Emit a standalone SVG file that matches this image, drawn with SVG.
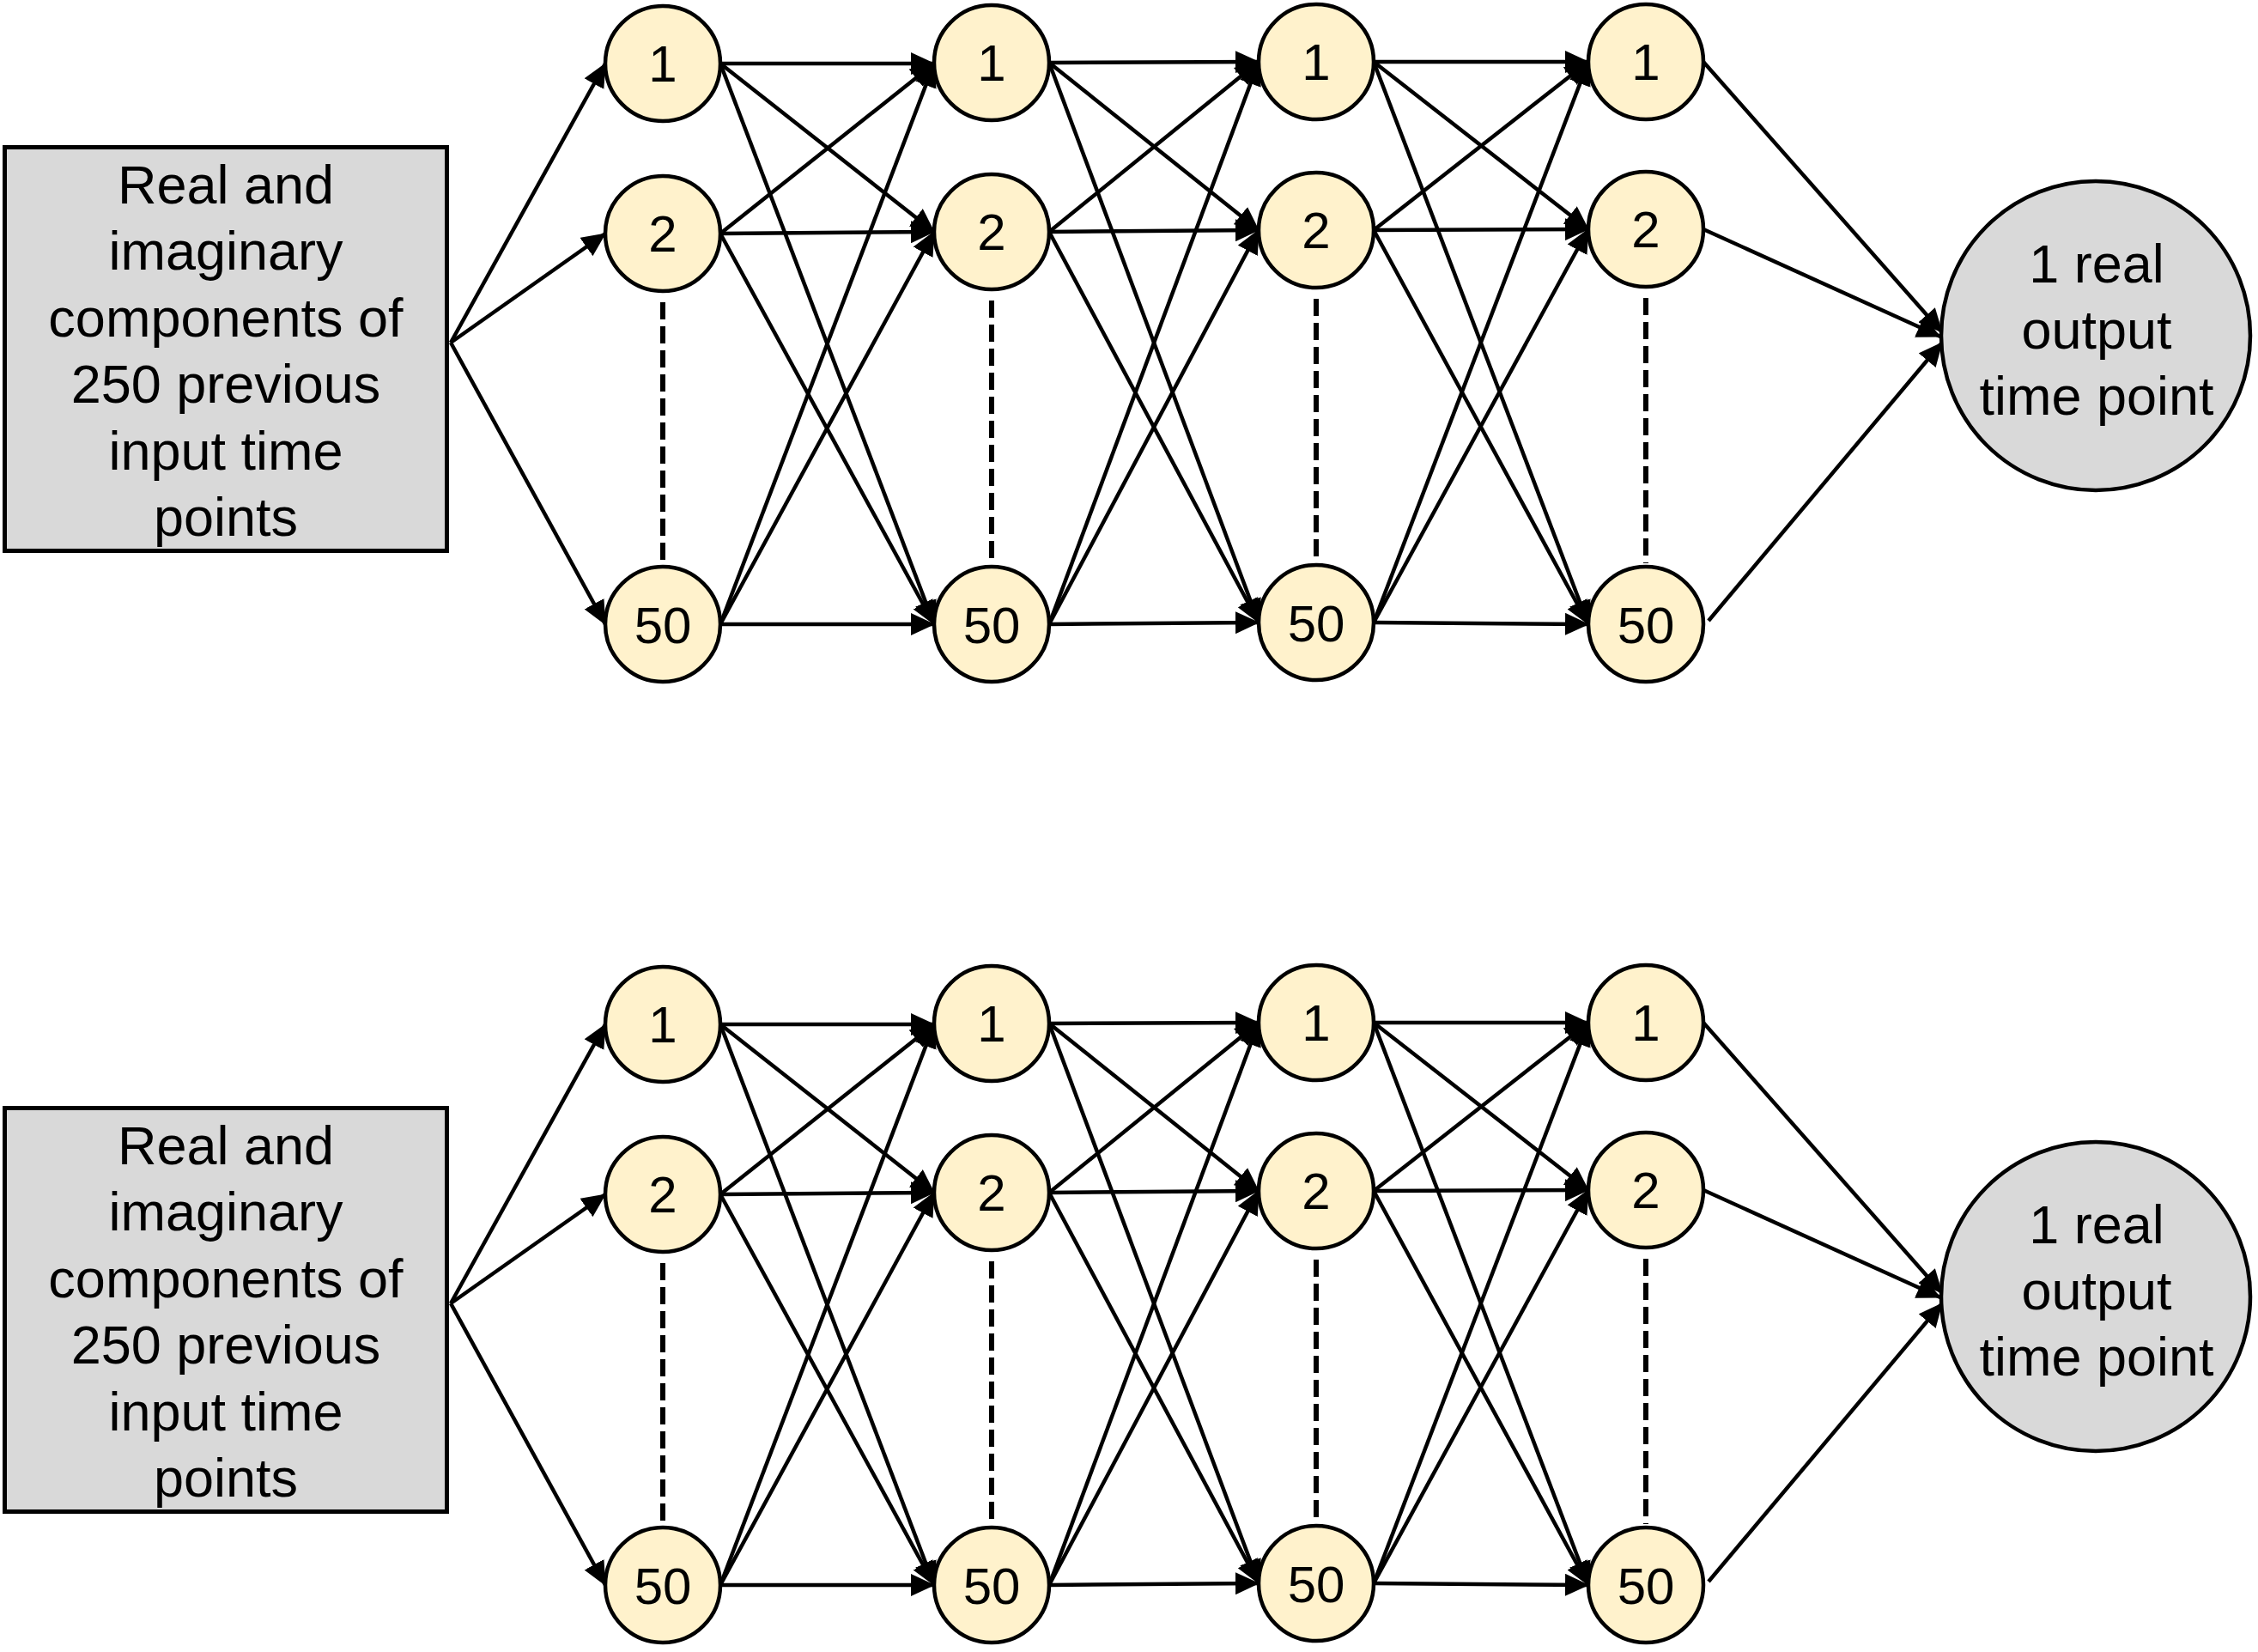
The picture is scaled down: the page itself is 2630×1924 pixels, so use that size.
<svg xmlns="http://www.w3.org/2000/svg" width="2630" height="1924" viewBox="0 0 2630 1924">
<defs>
<marker id="ah" viewBox="0 0 28 26" refX="27" refY="13" markerWidth="28" markerHeight="26" markerUnits="userSpaceOnUse" orient="auto">
<path d="M0,0 L28,13 L0,26 z" fill="#000"/>
</marker>
</defs>
<style>
.box{fill:#D9D9D9;stroke:#000;stroke-width:5}
.out{fill:#D9D9D9;stroke:#000;stroke-width:4.5}
.nd{fill:#FFF2CC;stroke:#000;stroke-width:4.5}
.e{stroke:#000;stroke-width:4.5;fill:none;marker-end:url(#ah)}
.d{stroke:#000;stroke-width:6;stroke-dasharray:20 8;fill:none}
text{font-family:"Liberation Sans",Arial,Helvetica,sans-serif;fill:#000;text-anchor:middle}
.t{font-size:63px}
.n{font-size:60px}
</style>
<rect width="2630" height="1924" fill="#fff"/>

<g id="panel-top">
<g id="connectors-top">
<line class="e" x1="525" y1="399" x2="705" y2="74"/>
<line class="e" x1="525" y1="399" x2="705" y2="272"/>
<line class="e" x1="525" y1="399" x2="705" y2="727"/>

<line class="e" x1="839" y1="74" x2="1088" y2="74"/>
<line class="e" x1="839" y1="74" x2="1088" y2="270"/>
<line class="e" x1="839" y1="74" x2="1088" y2="727"/>
<line class="e" x1="839" y1="272" x2="1088" y2="74"/>
<line class="e" x1="839" y1="272" x2="1088" y2="270"/>
<line class="e" x1="839" y1="272" x2="1088" y2="727"/>
<line class="e" x1="839" y1="727" x2="1088" y2="74"/>
<line class="e" x1="839" y1="727" x2="1088" y2="270"/>
<line class="e" x1="839" y1="727" x2="1088" y2="727"/>

<line class="e" x1="1222" y1="73" x2="1466" y2="72"/>
<line class="e" x1="1222" y1="73" x2="1466" y2="268"/>
<line class="e" x1="1222" y1="73" x2="1466" y2="725"/>
<line class="e" x1="1222" y1="270" x2="1466" y2="72"/>
<line class="e" x1="1222" y1="270" x2="1466" y2="268"/>
<line class="e" x1="1222" y1="270" x2="1466" y2="725"/>
<line class="e" x1="1222" y1="727" x2="1466" y2="72"/>
<line class="e" x1="1222" y1="727" x2="1466" y2="268"/>
<line class="e" x1="1222" y1="727" x2="1466" y2="725"/>

<line class="e" x1="1600" y1="72" x2="1850" y2="72"/>
<line class="e" x1="1600" y1="72" x2="1850" y2="267"/>
<line class="e" x1="1600" y1="72" x2="1850" y2="727"/>
<line class="e" x1="1600" y1="268" x2="1850" y2="72"/>
<line class="e" x1="1600" y1="268" x2="1850" y2="267"/>
<line class="e" x1="1600" y1="268" x2="1850" y2="727"/>
<line class="e" x1="1600" y1="725" x2="1850" y2="72"/>
<line class="e" x1="1600" y1="725" x2="1850" y2="267"/>
<line class="e" x1="1600" y1="725" x2="1850" y2="727"/>

<line class="e" x1="1984" y1="72" x2="2262" y2="387"/>
<line class="e" x1="1984" y1="267" x2="2260" y2="392"/>
<line class="e" x1="1990" y1="723" x2="2262" y2="399"/>

<line class="d" x1="772" y1="352" x2="772" y2="656"/>
<line class="d" x1="1155" y1="350" x2="1155" y2="656"/>
<line class="d" x1="1533" y1="348" x2="1533" y2="654"/>
<line class="d" x1="1917" y1="347" x2="1917" y2="656"/>
</g>

<g id="input-top">
<rect class="box" x="5.5" y="171.5" width="515" height="470"/>
<text class="t" x="263" y="237">Real and</text>
<text class="t" x="263" y="314">imaginary</text>
<text class="t" x="263" y="392">components of</text>
<text class="t" x="263" y="469">250 previous</text>
<text class="t" x="263" y="547">input time</text>
<text class="t" x="263" y="624">points</text>
</g>

<g id="top-l1-n1"><circle class="nd" cx="772" cy="74" r="67"/><text class="n" x="772" y="95">1</text></g>
<g id="top-l1-n2"><circle class="nd" cx="772" cy="272" r="67"/><text class="n" x="772" y="293">2</text></g>
<g id="top-l1-n50"><circle class="nd" cx="772" cy="727" r="67"/><text class="n" x="772" y="749">50</text></g>

<g id="top-l2-n1"><circle class="nd" cx="1155" cy="73" r="67"/><text class="n" x="1155" y="94">1</text></g>
<g id="top-l2-n2"><circle class="nd" cx="1155" cy="270" r="67"/><text class="n" x="1155" y="291">2</text></g>
<g id="top-l2-n50"><circle class="nd" cx="1155" cy="727" r="67"/><text class="n" x="1155" y="749">50</text></g>

<g id="top-l3-n1"><circle class="nd" cx="1533" cy="72" r="67"/><text class="n" x="1533" y="93">1</text></g>
<g id="top-l3-n2"><circle class="nd" cx="1533" cy="268" r="67"/><text class="n" x="1533" y="289">2</text></g>
<g id="top-l3-n50"><circle class="nd" cx="1533" cy="725" r="67"/><text class="n" x="1533" y="747">50</text></g>

<g id="top-l4-n1"><circle class="nd" cx="1917" cy="72" r="67"/><text class="n" x="1917" y="93">1</text></g>
<g id="top-l4-n2"><circle class="nd" cx="1917" cy="267" r="67"/><text class="n" x="1917" y="288">2</text></g>
<g id="top-l4-n50"><circle class="nd" cx="1917" cy="727" r="67"/><text class="n" x="1917" y="749">50</text></g>

<g id="output-top">
<circle class="out" cx="2441" cy="391" r="180"/>
<text class="t" x="2442" y="329">1 real</text>
<text class="t" x="2442" y="406">output</text>
<text class="t" x="2442" y="483">time point</text>
</g>
</g>

<g id="panel-bottom" transform="translate(0,1119)">
<g id="connectors-bottom">
<line class="e" x1="525" y1="399" x2="705" y2="74"/>
<line class="e" x1="525" y1="399" x2="705" y2="272"/>
<line class="e" x1="525" y1="399" x2="705" y2="727"/>

<line class="e" x1="839" y1="74" x2="1088" y2="74"/>
<line class="e" x1="839" y1="74" x2="1088" y2="270"/>
<line class="e" x1="839" y1="74" x2="1088" y2="727"/>
<line class="e" x1="839" y1="272" x2="1088" y2="74"/>
<line class="e" x1="839" y1="272" x2="1088" y2="270"/>
<line class="e" x1="839" y1="272" x2="1088" y2="727"/>
<line class="e" x1="839" y1="727" x2="1088" y2="74"/>
<line class="e" x1="839" y1="727" x2="1088" y2="270"/>
<line class="e" x1="839" y1="727" x2="1088" y2="727"/>

<line class="e" x1="1222" y1="73" x2="1466" y2="72"/>
<line class="e" x1="1222" y1="73" x2="1466" y2="268"/>
<line class="e" x1="1222" y1="73" x2="1466" y2="725"/>
<line class="e" x1="1222" y1="270" x2="1466" y2="72"/>
<line class="e" x1="1222" y1="270" x2="1466" y2="268"/>
<line class="e" x1="1222" y1="270" x2="1466" y2="725"/>
<line class="e" x1="1222" y1="727" x2="1466" y2="72"/>
<line class="e" x1="1222" y1="727" x2="1466" y2="268"/>
<line class="e" x1="1222" y1="727" x2="1466" y2="725"/>

<line class="e" x1="1600" y1="72" x2="1850" y2="72"/>
<line class="e" x1="1600" y1="72" x2="1850" y2="267"/>
<line class="e" x1="1600" y1="72" x2="1850" y2="727"/>
<line class="e" x1="1600" y1="268" x2="1850" y2="72"/>
<line class="e" x1="1600" y1="268" x2="1850" y2="267"/>
<line class="e" x1="1600" y1="268" x2="1850" y2="727"/>
<line class="e" x1="1600" y1="725" x2="1850" y2="72"/>
<line class="e" x1="1600" y1="725" x2="1850" y2="267"/>
<line class="e" x1="1600" y1="725" x2="1850" y2="727"/>

<line class="e" x1="1984" y1="72" x2="2262" y2="387"/>
<line class="e" x1="1984" y1="267" x2="2260" y2="392"/>
<line class="e" x1="1990" y1="723" x2="2262" y2="399"/>

<line class="d" x1="772" y1="352" x2="772" y2="656"/>
<line class="d" x1="1155" y1="350" x2="1155" y2="656"/>
<line class="d" x1="1533" y1="348" x2="1533" y2="654"/>
<line class="d" x1="1917" y1="347" x2="1917" y2="656"/>
</g>

<g id="input-bottom">
<rect class="box" x="5.5" y="171.5" width="515" height="470"/>
<text class="t" x="263" y="237">Real and</text>
<text class="t" x="263" y="314">imaginary</text>
<text class="t" x="263" y="392">components of</text>
<text class="t" x="263" y="469">250 previous</text>
<text class="t" x="263" y="547">input time</text>
<text class="t" x="263" y="624">points</text>
</g>

<g id="bot-l1-n1"><circle class="nd" cx="772" cy="74" r="67"/><text class="n" x="772" y="95">1</text></g>
<g id="bot-l1-n2"><circle class="nd" cx="772" cy="272" r="67"/><text class="n" x="772" y="293">2</text></g>
<g id="bot-l1-n50"><circle class="nd" cx="772" cy="727" r="67"/><text class="n" x="772" y="749">50</text></g>

<g id="bot-l2-n1"><circle class="nd" cx="1155" cy="73" r="67"/><text class="n" x="1155" y="94">1</text></g>
<g id="bot-l2-n2"><circle class="nd" cx="1155" cy="270" r="67"/><text class="n" x="1155" y="291">2</text></g>
<g id="bot-l2-n50"><circle class="nd" cx="1155" cy="727" r="67"/><text class="n" x="1155" y="749">50</text></g>

<g id="bot-l3-n1"><circle class="nd" cx="1533" cy="72" r="67"/><text class="n" x="1533" y="93">1</text></g>
<g id="bot-l3-n2"><circle class="nd" cx="1533" cy="268" r="67"/><text class="n" x="1533" y="289">2</text></g>
<g id="bot-l3-n50"><circle class="nd" cx="1533" cy="725" r="67"/><text class="n" x="1533" y="747">50</text></g>

<g id="bot-l4-n1"><circle class="nd" cx="1917" cy="72" r="67"/><text class="n" x="1917" y="93">1</text></g>
<g id="bot-l4-n2"><circle class="nd" cx="1917" cy="267" r="67"/><text class="n" x="1917" y="288">2</text></g>
<g id="bot-l4-n50"><circle class="nd" cx="1917" cy="727" r="67"/><text class="n" x="1917" y="749">50</text></g>

<g id="output-bottom">
<circle class="out" cx="2441" cy="391" r="180"/>
<text class="t" x="2442" y="329">1 real</text>
<text class="t" x="2442" y="406">output</text>
<text class="t" x="2442" y="483">time point</text>
</g>
</g>
</svg>
